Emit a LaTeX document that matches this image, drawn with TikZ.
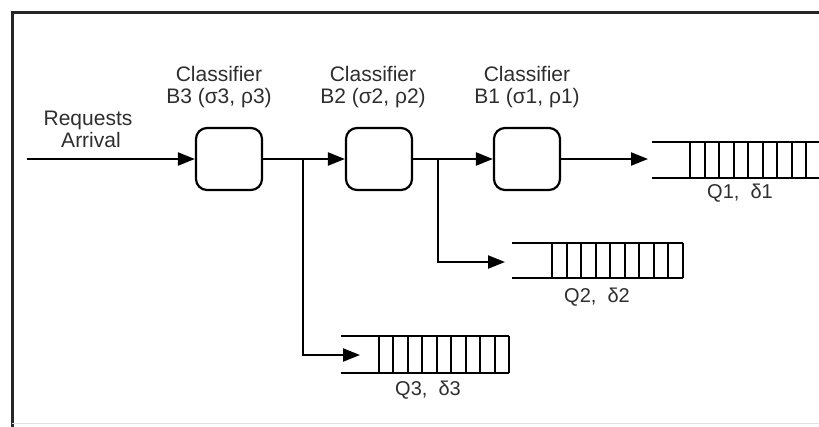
\documentclass[tikz,border=0pt]{standalone}
\usepackage{fontspec}
\setmainfont{Liberation Sans}
\usetikzlibrary{arrows.meta}
\newcommand\queuedraw[6]{% left, cellstart, cellend, top, bottom, closed(1/0)
  \draw[qline] (#1,#4) -- (#3,#4);
  \draw[qline] (#1,#5) -- (#3,#5);
  \foreach \k in {0,...,9}{
    \draw[qline] ({#2+\k*(#3-#2)/9},#4) -- ({#2+\k*(#3-#2)/9},#5);
  }
}
\begin{document}
\begin{tikzpicture}[x=1pt,y=-1pt,
  cls/.style={draw, line width=2.2pt, rounded corners=11pt, minimum width=66pt, minimum height=62pt, inner sep=0pt},
  conn/.style={line width=2.2pt, -{Triangle[length=17pt,width=13pt]}},
  lbl/.style={font=\fontsize{21}{22}\selectfont, text=black!82, align=center, inner sep=0pt},
  qlbl/.style={font=\fontsize{20}{21}\selectfont, text=black!82, inner sep=0pt},
  qline/.style={line width=2pt}]
\useasboundingbox (0,0) rectangle (819,426);
\clip (0,0) rectangle (819,426);
% frame
\draw[line width=3pt, black!85] (840,12) -- (12,12) -- (12,440);
\draw[black!12, line width=1pt] (12,423) -- (819,423);

% classifiers
\node[cls] (b3) at (229,159) {};
\node[cls] (b2) at (379,159) {};
\node[cls] (b1) at (527,159) {};

% labels
\node[lbl] (l3) at (219,87) {Classifier\\B3 (σ3, ρ3)};
\node[lbl] (l2) at (373,87) {Classifier\\B2 (σ2, ρ2)};
\node[lbl] (l1) at (527,87) {Classifier\\B1 (σ1, ρ1)};
\node[lbl] (req) at (88,129) {Requests\\\hspace*{6pt}Arrival};

% queues
\queuedraw{652}{690}{821}{142}{178}{0}
\queuedraw{512}{552}{683}{243}{278}{1}
\queuedraw{341}{379}{509}{336}{373}{1}
\coordinate (q1in) at (648,159);
\coordinate (q2in) at (505,262);
\coordinate (q3in) at (360,355);
\node[qlbl] (q1l) at (740,193) {Q1,\ \ δ1};
\node[qlbl] (q2l) at (597,297) {Q2,\ \ δ2};
\node[qlbl] (q3l) at (428,390) {Q3,\ \ δ3};

% connectors
\coordinate (src) at (27,159);
\coordinate (j3) at (303,159);
\coordinate (j2) at (438,159);
\draw[conn] (src) -- (b3.west);
\draw[conn] (b3.east) -- (b2.west);
\draw[conn] (b2.east) -- (b1.west);
\draw[conn] (b1.east) -- (q1in);
\draw[conn] (j3) |- (q3in);
\draw[conn] (j2) |- (q2in);
\end{tikzpicture}
\end{document}
